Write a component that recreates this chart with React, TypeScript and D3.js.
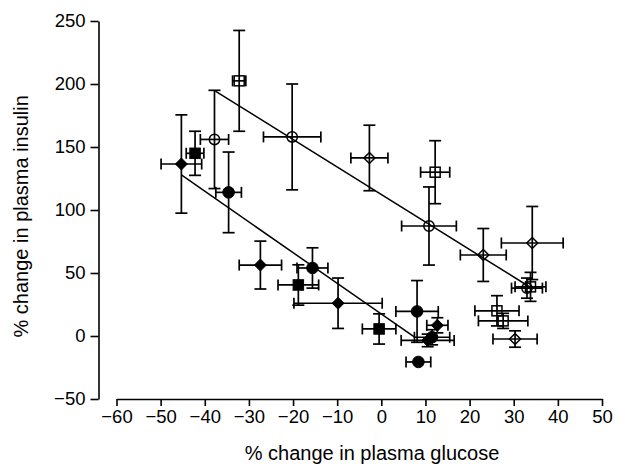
import React, { useEffect, useRef } from "react";
import * as d3 from "d3";

// [x, y, xErr, yErr]
type Pt = [number, number, number, number];

const xTicks = [-60, -50, -40, -30, -20, -10, 0, 10, 20, 30, 40, 50];
const yTicks = [-50, 0, 50, 100, 150, 200, 250];

const filledCircles: Pt[] = [
  [-34.6, 114, 2.9, 32],
  [-15.6, 54, 3.5, 16],
  [8.1, 19.5, 4.8, 24.5],
  [8.4, -20.6, 2.8, 0],
  [11.5, -1, 4, 6],
];
const filledSquares: Pt[] = [
  [-42.2, 145, 2, 17.5],
  [-18.8, 40.5, 4.6, 16],
  [-0.5, 5.6, 3.8, 12],
];
const filledDiamonds: Pt[] = [
  [-45.3, 136.5, 4.6, 39],
  [-27.4, 56.3, 4.8, 19],
  [-9.8, 26, 10, 20],
  [12.7, 8.5, 2.4, 6],
  [10.5, -3.5, 6, 5],
];
const openCircles: Pt[] = [
  [-37.8, 156, 3.2, 39],
  [-20.2, 158, 6.5, 42],
  [10.8, 87.3, 6.2, 31],
  [33, 38, 3.5, 8],
];
const openSquares: Pt[] = [
  [-32.2, 202.5, 1.5, 40],
  [12.2, 130, 3.3, 25],
  [26.2, 20, 5, 12],
  [27.6, 12, 5.6, 6],
  [33.8, 39, 3.5, 11.5],
];
const openDiamonds: Pt[] = [
  [-2.7, 141.3, 4.2, 26],
  [23.1, 64.3, 5.2, 21],
  [34.2, 73.8, 7, 29],
  [30.3, -2.4, 5, 6.5],
];

// fitted lines, end points
const upperFit: [number, number][] = [[-37.6, 194.4], [33.8, 38.5]];
const lowerFit: [number, number][] = [[-45.3, 127.8], [7.7, -1.3]];

const width = 629;
const height = 471;
const font = "'Liberation Sans', Arial, sans-serif";

const xScale = d3.scaleLinear().domain([-60, 50]).range([116.5, 602]);
const yScale = d3.scaleLinear().domain([-50, 250]).range([399, 21]);
const yAxisX = 98.5;

const ErrorBars = ({ data }: { data: Pt[] }) => {
  const cap = 5.5;
  return (
    <g stroke="#000" strokeWidth={1.7}>
      {data.map(([x, y, ex, ey], i) => {
        const cx = xScale(x);
        const cy = yScale(y);
        const x0 = xScale(x - ex);
        const x1 = xScale(x + ex);
        const y0 = yScale(y + ey);
        const y1 = yScale(y - ey);
        return (
          <g key={i}>
            {ex > 0 && (
              <>
                <line x1={x0} x2={x1} y1={cy} y2={cy} />
                <line x1={x0} x2={x0} y1={cy - cap} y2={cy + cap} />
                <line x1={x1} x2={x1} y1={cy - cap} y2={cy + cap} />
              </>
            )}
            {ey > 0 && (
              <>
                <line x1={cx} x2={cx} y1={y0} y2={y1} />
                <line x1={cx - cap - 0.5} x2={cx + cap + 0.5} y1={y0} y2={y0} />
                <line x1={cx - cap - 0.5} x2={cx + cap + 0.5} y1={y1} y2={y1} />
              </>
            )}
          </g>
        );
      })}
    </g>
  );
};

const Marks = ({
  data,
  shape,
  filled,
}: {
  data: Pt[];
  shape: "circle" | "square" | "diamond";
  filled: boolean;
}) => (
  <g
    fill={filled ? "#000" : "none"}
    stroke="#000"
    strokeWidth={filled ? 1 : 1.5}
  >
    {data.map(([x, y], i) => {
      const cx = xScale(x);
      const cy = yScale(y);
      if (shape === "circle")
        return <circle key={i} cx={cx} cy={cy} r={filled ? 5.8 : 5.2} />;
      if (shape === "square") {
        const s = filled ? 10.5 : 10;
        return <rect key={i} x={cx - s / 2} y={cy - s / 2} width={s} height={s} />;
      }
      const h = filled ? 6 : 5.5;
      return (
        <path
          key={i}
          d={`M${cx},${cy - h}L${cx + h},${cy}L${cx},${cy + h}L${cx - h},${cy}Z`}
        />
      );
    })}
  </g>
);

const App = () => {
  const xRef = useRef<SVGGElement>(null);
  const yRef = useRef<SVGGElement>(null);

  useEffect(() => {
    const fmt = (d: d3.NumberValue) => d3.format("")(d as number).replace("-", "\u2013");
    const xAxis = d3
      .axisBottom(xScale)
      .tickValues(xTicks)
      .tickSize(7)
      .tickSizeOuter(0)
      .tickPadding(4)
      .tickFormat(fmt);
    const yAxis = d3
      .axisLeft(yScale)
      .tickValues(yTicks)
      .tickSize(8)
      .tickSizeOuter(0)
      .tickPadding(5)
      .tickFormat(fmt);
    const gx = d3.select(xRef.current!);
    gx.call(xAxis);
    const gy = d3.select(yRef.current!);
    gy.call(yAxis);
    [gx, gy].forEach((g) => {
      g.selectAll("path, line").attr("stroke", "#000").attr("stroke-width", 1.6);
      g.selectAll("text")
        .attr("fill", "#000")
        .style("font-family", font)
        .style("font-size", "18.5px");
    });
  }, []);

  const line = d3
    .line<[number, number]>()
    .x((d) => xScale(d[0]))
    .y((d) => yScale(d[1]));

  return (
    <svg
      width={width}
      height={height}
      style={{ position: "absolute", left: 0, top: 0, background: "#fff" }}
    >
      <g ref={xRef} transform={`translate(0,${yScale(-50)})`} />
      <g ref={yRef} transform={`translate(${yAxisX},0)`} />

      <g fill="none" stroke="#000" strokeWidth={1.5}>
        <path d={line(upperFit) ?? ""} />
        <path d={line(lowerFit) ?? ""} />
      </g>

      <ErrorBars data={filledCircles} />
      <ErrorBars data={filledSquares} />
      <ErrorBars data={filledDiamonds} />
      <ErrorBars data={openCircles} />
      <ErrorBars data={openSquares} />
      <ErrorBars data={openDiamonds} />

      <Marks data={filledCircles} shape="circle" filled />
      <Marks data={filledSquares} shape="square" filled />
      <Marks data={filledDiamonds} shape="diamond" filled />
      <Marks data={openCircles} shape="circle" filled={false} />
      <Marks data={openSquares} shape="square" filled={false} />
      <Marks data={openDiamonds} shape="diamond" filled={false} />

      <text
        x={372}
        y={460}
        textAnchor="middle"
        fontFamily={font}
        fontSize={20}
      >
        % change in plasma glucose
      </text>
      <text
        transform={`translate(28,${yScale(95)}) rotate(-90)`}
        textAnchor="middle"
        fontFamily={font}
        fontSize={20}
      >
        % change in plasma insulin
      </text>
    </svg>
  );
};

export default App;
